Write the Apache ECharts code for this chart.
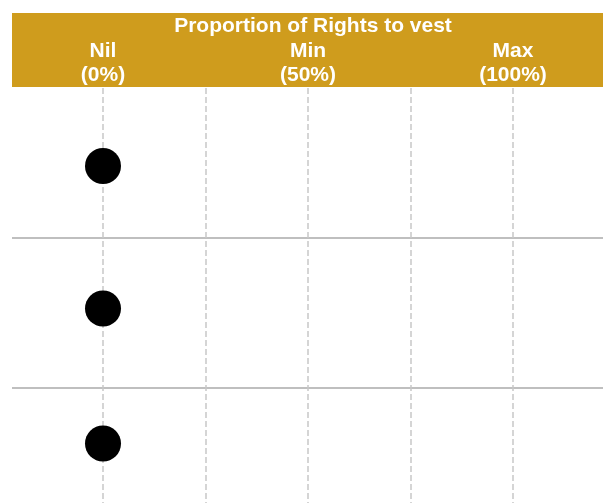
<!DOCTYPE html>
<html>
<head>
<meta charset="utf-8">
<script src="https://cdn.jsdelivr.net/npm/echarts@6/dist/echarts.min.js"></script>
<style>
  html, body { margin: 0; padding: 0; background: #fff; }
  #chart { width: 603px; height: 503px; }
</style>
</head>
<body>
<div id="chart"></div>
<script>
const headerTitle = 'Proportion of Rights to vest'
const levelValues = [0, 50, 100]
const levelNames = ['Nil', 'Min', 'Max']
const levelPct = ['(0%)', '(50%)', '(100%)']

// one dot per row: vesting proportion and row position (rows are 1 unit tall)
const vestValues = [0, 0, 0]
const rowPositions = [0.52, 1.47, 2.37]

const gold = '#CF9C1D'
const font = '"Liberation Sans", Arial, sans-serif'

const chart = echarts.init(document.getElementById('chart'))

const option = {
    animation: false,
    title: {
        text: headerTitle,
        left: 313,
        textAlign: 'center',
        top: 16,
        padding: 0,
        textStyle: { color: '#fff', fontSize: 21, fontWeight: 'bold', fontFamily: font }
    },
    graphic: [{
        type: 'rect',
        left: 12,
        top: 13,
        shape: { width: 591, height: 74 },
        style: { fill: gold },
        z: 0
    }],
    grid: [
        { left: 12, right: 0, top: 88, bottom: 0 },
        { left: 103, right: 90, top: 88, bottom: 0 }
    ],
    xAxis: [
        { gridIndex: 0, type: 'value', min: 0, max: 1, show: false },
        {
            gridIndex: 1,
            type: 'value',
            position: 'top',
            min: 0,
            max: 100,
            interval: 25,
            axisLine: { show: false },
            axisTick: { show: false },
            axisLabel: {
                margin: 1,
                color: '#fff',
                fontSize: 21,
                fontWeight: 'bold',
                fontFamily: font,
                lineHeight: 24,
                formatter: v => {
                    const i = levelValues.indexOf(v)
                    return i < 0 ? '' : levelNames[i] + '\n' + levelPct[i]
                }
            },
            splitLine: {
                show: true,
                lineStyle: { color: '#c8c8c8', width: 1.5, type: [6, 3] }
            }
        }
    ],
    yAxis: [
        {
            gridIndex: 0,
            type: 'value',
            inverse: true,
            min: 0,
            max: 415 / 150,
            interval: 1,
            axisLine: { show: false },
            axisTick: { show: false },
            axisLabel: { show: false },
            splitLine: {
                show: true,
                showMinLine: false,
                showMaxLine: false,
                lineStyle: { color: '#bfbfbf', width: 2 }
            }
        },
        {
            gridIndex: 1,
            type: 'value',
            inverse: true,
            min: 0,
            max: 415 / 150,
            show: false
        }
    ],
    series: [{
        type: 'scatter',
        xAxisIndex: 1,
        yAxisIndex: 1,
        symbolSize: 36,
        z: 10,
        itemStyle: { color: '#000', opacity: 1 },
        data: vestValues.map((v, i) => [v, rowPositions[i]])
    }]
}

chart.setOption(option)
</script>
</body>
</html>
